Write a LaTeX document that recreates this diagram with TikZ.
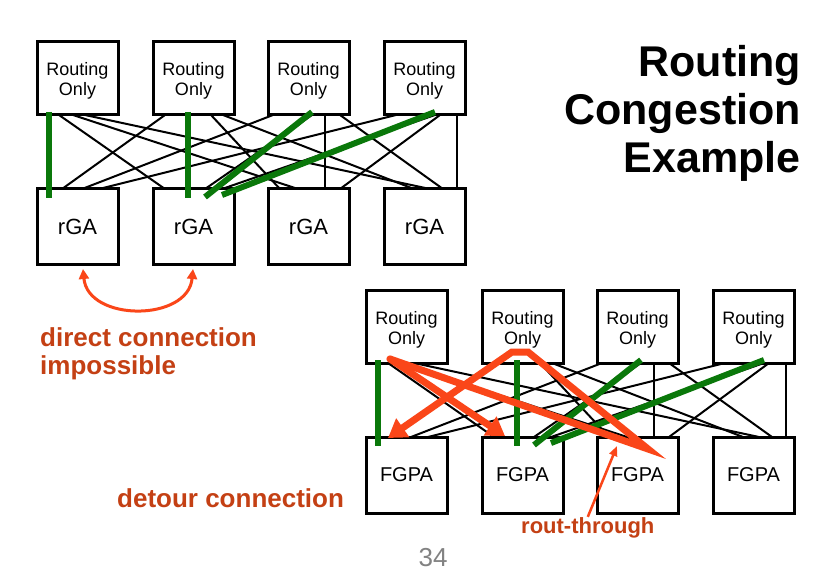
\documentclass[tikz,border=0pt]{standalone}
\usepackage{fontspec}
\setmainfont{Liberation Sans}
\usetikzlibrary{arrows.meta}
\definecolor{redtext}{RGB}{196,64,20}
\definecolor{redline}{RGB}{250,70,25}
\definecolor{grn}{RGB}{10,120,10}
\definecolor{pnum}{RGB}{130,130,130}
\pgfdeclarelayer{paper}
\pgfdeclarelayer{wires}
\pgfsetlayers{paper,wires,main}
\tikzset{
 box/.style={draw=black, line width=3pt, fill=white, inner sep=0pt, outer sep=0pt, minimum width=81pt},
 topbox/.style={box, minimum height=73pt, align=center, text height=38pt, text depth=3pt, font=\fontsize{18}{20}\selectfont},
 botbox/.style={box, minimum height=76pt, font=\fontsize{20}{24}\selectfont},
 wire/.style={line width=2pt, black},
 gwire/.style={line width=6pt, grn},
 rpath/.style={line width=7pt, redline},
 rtip/.style={-{Triangle[length=18pt,width=22pt]}},
 lbl/.style={text=redtext, font=\fontsize{26}{28}\selectfont\bfseries, inner sep=0pt},
}
\newcommand{\mygrid}[4]{%
 \begin{scope}[shift={(#2,#3)}]
  \foreach \i/\L in {1/37,2/153,3/268,4/384}{
   \node[topbox] (#1t\i) at (\L+40.5,78.5) {Routing\\Only};
   \node[botbox] (#1b\i) at (\L+40.5,227) {#4};
  }
 \end{scope}
 \begin{pgfonlayer}{wires}
  \foreach \i/\ta/\j/\tb in {1/12/1/12,1/22/2/12,1/36/3/30,1/48/4/46,2/12/1/25,2/35/2/35,2/58/3/12,2/70/4/30,3/5/1/45,3/44/2/52,3/57/3/57,3/72/4/59,4/12/1/62,4/51/2/69,4/56/3/72,4/73/4/73}{
   \draw[wire] ([xshift=\ta pt]#1t\i.south west) -- ([xshift=\tb pt]#1b\j.north west);
  }
 \end{pgfonlayer}
}
\newcommand{\mygreens}[1]{%
 \draw[gwire] ([xshift=12pt,yshift=3pt]#1t1.south west) -- ([xshift=12pt,yshift=-9pt]#1b1.north west);
 \draw[gwire] ([xshift=35pt,yshift=3pt]#1t2.south west) -- ([xshift=35pt,yshift=-9pt]#1b2.north west);
 \draw[gwire] ([xshift=44pt,yshift=3pt]#1t3.south west) -- ([xshift=52pt,yshift=-8pt]#1b2.north west);
 \draw[gwire] ([xshift=51pt,yshift=3pt]#1t4.south west) -- ([xshift=69pt,yshift=-6pt]#1b2.north west);
}
\begin{document}
\begin{tikzpicture}[x=1pt,y=-1pt]
\useasboundingbox (0,0) rectangle (840,585);
\begin{pgfonlayer}{paper}\fill[white] (0,0) rectangle (840,585);\end{pgfonlayer}

\mygrid{u}{0}{0}{\fontsize{22}{24}\selectfont rGA}
\mygrid{l}{329}{248}{FGPA}
\mygreens{u}
\mygreens{l}

% title
\node[font=\fontsize{43}{48}\selectfont\bfseries, align=right, anchor=north east, inner sep=0pt] (title) at (801,45) {Routing\\Congestion\\Example};

% direct connection impossible
\coordinate (arcL) at ([xshift=46pt,yshift=-4pt]ub1.south west);
\coordinate (arcR) at ([xshift=40pt,yshift=-4pt]ub2.south west);
\draw[line width=3pt, redline, {Triangle[length=10pt,width=10pt]}-{Triangle[length=10pt,width=10pt]}] (arcL) .. controls (88,322) and (188,322) .. (arcR);
\node[lbl, align=left, anchor=north west] (dci) at (40,327) {direct connection\\impossible};

% detour connection
\coordinate (pB2) at (505,436);
\coordinate (pT1) at (390,359);
\coordinate (pV) at (648,449);
\coordinate (pT2a) at (528,352);
\coordinate (pT2b) at (512,352);
\coordinate (pB1) at (388,438);
\draw[rpath, rtip, line join=miter, line cap=round] (pT1) -- (pV) -- (pT2a) -- (pT2b) -- (pB1);
\draw[rpath, rtip, line cap=round] (pT1) -- (pB2);
\node[lbl, anchor=base west] (dc) at (117,507) {detour connection};

% rout-through
\node[lbl, font=\fontsize{22}{26}\selectfont\bfseries, anchor=base west] (rt) at (521,533) {rout-through};
\draw[line width=2.5pt, redline, -{Triangle[length=10pt,width=8pt]}] (rt.north) -- ([xshift=20pt,yshift=-9pt]lb3.north west);

% page number
\node[text=pnum, font=\fontsize{26}{30}\selectfont, anchor=base, inner sep=0pt] (pg) at (433,566) {34};
\end{tikzpicture}
\end{document}
